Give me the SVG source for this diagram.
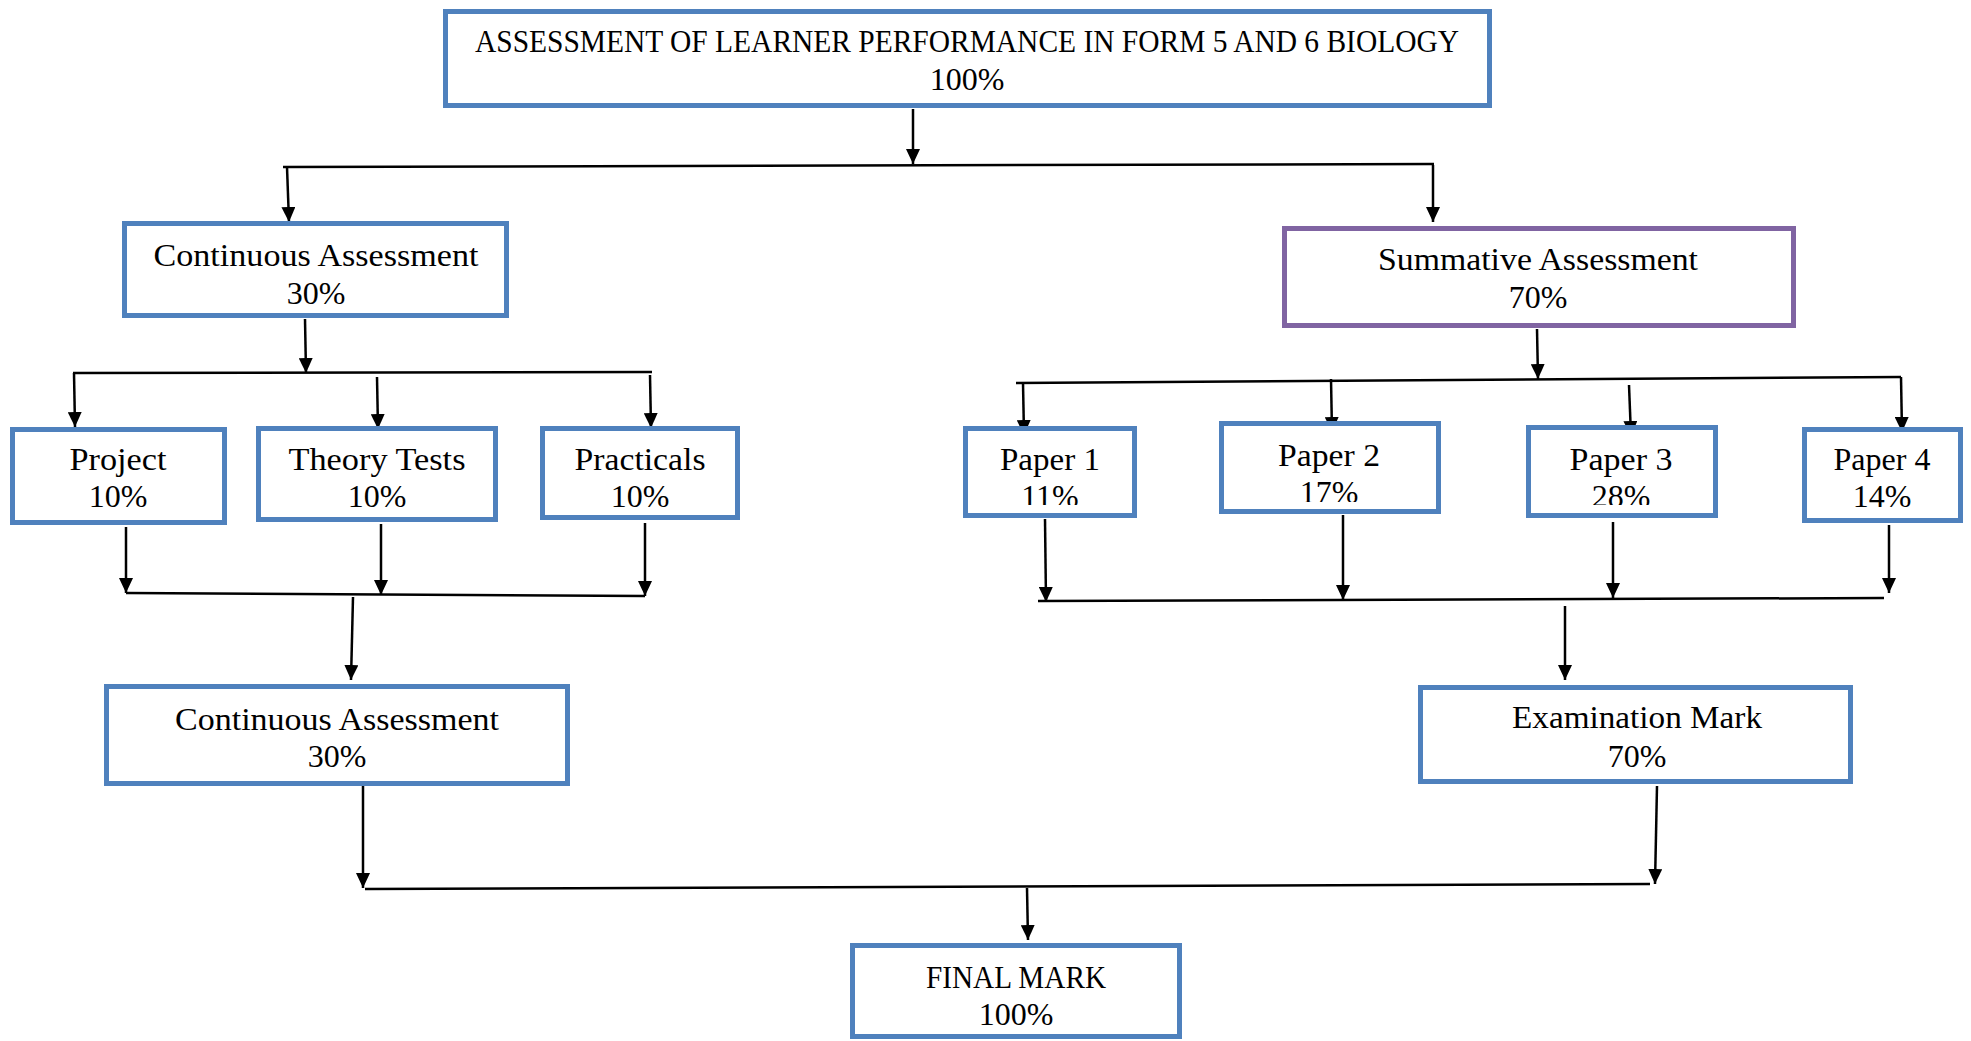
<svg xmlns="http://www.w3.org/2000/svg" width="1971" height="1041" viewBox="0 0 1971 1041">
<style>
.box{fill:#fff;stroke:#4F81BD;stroke-width:5}
.pbox{fill:#fff;stroke:#8064A2;stroke-width:5}
.t{font-family:"Liberation Serif","Times New Roman",serif;font-size:32px;fill:#000;text-anchor:middle}
.c{stroke:#000;stroke-width:2.5;fill:none}
.a{stroke:#000;stroke-width:2.5;fill:none;marker-end:url(#ah)}
</style>
<defs>
<marker id="ah" markerUnits="userSpaceOnUse" markerWidth="15" markerHeight="14" viewBox="0 0 15 14" refX="15" refY="7" orient="auto">
<path d="M0,0 L15,7 L0,14 z" fill="#000"/>
</marker>
<clipPath id="cp1"><rect x="960" y="420" width="180" height="85"/></clipPath>
<clipPath id="cp2"><rect x="1215" y="415" width="230" height="87"/></clipPath>
<clipPath id="cp3"><rect x="1522" y="420" width="200" height="85"/></clipPath>
</defs>
<rect width="1971" height="1041" fill="#fff"/>

<g id="connectors">
<line class="a" x1="913" y1="109" x2="913" y2="164"/>
<line class="c" x1="283" y1="167" x2="1434" y2="164"/>
<line class="a" x1="287" y1="167" x2="289" y2="222"/>
<line class="a" x1="1433" y1="165" x2="1433" y2="222"/>

<line class="a" x1="305" y1="319" x2="306" y2="373"/>
<line class="c" x1="73" y1="373" x2="652" y2="372"/>
<line class="a" x1="74" y1="373" x2="75" y2="427"/>
<line class="a" x1="377" y1="377" x2="378" y2="429"/>
<line class="a" x1="650" y1="375" x2="651" y2="428"/>

<line class="a" x1="126" y1="527" x2="126" y2="593"/>
<line class="a" x1="381" y1="524" x2="381" y2="595"/>
<line class="a" x1="645" y1="523" x2="645" y2="596"/>
<line class="c" x1="126" y1="593" x2="645" y2="596"/>
<line class="a" x1="353" y1="597" x2="351" y2="680"/>

<line class="a" x1="1537" y1="329" x2="1538" y2="379"/>
<line class="c" x1="1016" y1="383" x2="1901" y2="377"/>
<line class="a" x1="1023" y1="383" x2="1024" y2="435"/>
<line class="a" x1="1331" y1="379" x2="1332" y2="432"/>
<line class="a" x1="1629" y1="385" x2="1631" y2="436"/>
<line class="a" x1="1901" y1="377" x2="1902" y2="432"/>

<line class="a" x1="1045" y1="519" x2="1046" y2="602"/>
<line class="a" x1="1343" y1="515" x2="1343" y2="600"/>
<line class="a" x1="1613" y1="522" x2="1613" y2="598"/>
<line class="a" x1="1889" y1="525" x2="1889" y2="593"/>
<line class="c" x1="1038" y1="601" x2="1884" y2="598"/>
<line class="a" x1="1565" y1="606" x2="1565" y2="680"/>

<line class="a" x1="363" y1="786" x2="363" y2="888"/>
<line class="a" x1="1657" y1="786" x2="1655" y2="884"/>
<line class="c" x1="365" y1="889" x2="1650" y2="884"/>
<line class="a" x1="1027" y1="888" x2="1028" y2="940"/>
</g>

<g id="n-top">
<rect class="box" x="445.5" y="11.5" width="1044" height="94"/>
<text class="t" x="967" y="52" textLength="984" lengthAdjust="spacingAndGlyphs">ASSESSMENT OF LEARNER PERFORMANCE IN FORM 5 AND 6 BIOLOGY</text>
<text class="t" x="967" y="90">100%</text>
</g>

<g id="n-ca1">
<rect class="box" x="124.5" y="223.5" width="382" height="92"/>
<text class="t" x="316" y="266" textLength="325" lengthAdjust="spacingAndGlyphs">Continuous Assessment</text>
<text class="t" x="316" y="304">30%</text>
</g>

<g id="n-summative">
<rect class="pbox" x="1284.5" y="228.5" width="509" height="97"/>
<text class="t" x="1538" y="270" textLength="320" lengthAdjust="spacingAndGlyphs">Summative Assessment</text>
<text class="t" x="1538" y="308">70%</text>
</g>

<g id="n-project">
<rect class="box" x="12.5" y="429.5" width="212" height="93"/>
<text class="t" x="118" y="470" textLength="97" lengthAdjust="spacingAndGlyphs">Project</text>
<text class="t" x="118" y="507">10%</text>
</g>

<g id="n-theory">
<rect class="box" x="258.5" y="428.5" width="237" height="91"/>
<text class="t" x="377" y="470" textLength="177" lengthAdjust="spacingAndGlyphs">Theory Tests</text>
<text class="t" x="377" y="507">10%</text>
</g>

<g id="n-practicals">
<rect class="box" x="542.5" y="428.5" width="195" height="89"/>
<text class="t" x="640" y="470" textLength="131" lengthAdjust="spacingAndGlyphs">Practicals</text>
<text class="t" x="640" y="507">10%</text>
</g>

<g id="n-paper1">
<rect class="box" x="965.5" y="428.5" width="169" height="87"/>
<text class="t" x="1050" y="470" textLength="100" lengthAdjust="spacingAndGlyphs">Paper 1</text>
<text class="t" x="1050" y="507" clip-path="url(#cp1)">11%</text>
</g>

<g id="n-paper2">
<rect class="box" x="1221.5" y="423.5" width="217" height="88"/>
<text class="t" x="1329" y="466" textLength="102" lengthAdjust="spacingAndGlyphs">Paper 2</text>
<text class="t" x="1329" y="503" clip-path="url(#cp2)">17%</text>
</g>

<g id="n-paper3">
<rect class="box" x="1528.5" y="427.5" width="187" height="88"/>
<text class="t" x="1621" y="470" textLength="103" lengthAdjust="spacingAndGlyphs">Paper 3</text>
<text class="t" x="1621" y="507" clip-path="url(#cp3)">28%</text>
</g>

<g id="n-paper4">
<rect class="box" x="1804.5" y="429.5" width="156" height="91"/>
<text class="t" x="1882" y="470" textLength="97" lengthAdjust="spacingAndGlyphs">Paper 4</text>
<text class="t" x="1882" y="507">14%</text>
</g>

<g id="n-ca2">
<rect class="box" x="106.5" y="686.5" width="461" height="97"/>
<text class="t" x="337" y="730" textLength="324" lengthAdjust="spacingAndGlyphs">Continuous Assessment</text>
<text class="t" x="337" y="767">30%</text>
</g>

<g id="n-exam">
<rect class="box" x="1420.5" y="687.5" width="430" height="94"/>
<text class="t" x="1637" y="728" textLength="250" lengthAdjust="spacingAndGlyphs">Examination Mark</text>
<text class="t" x="1637" y="767">70%</text>
</g>

<g id="n-final">
<rect class="box" x="852.5" y="945.5" width="327" height="91"/>
<text class="t" x="1016" y="988" textLength="180" lengthAdjust="spacingAndGlyphs">FINAL MARK</text>
<text class="t" x="1016" y="1025">100%</text>
</g>
</svg>
